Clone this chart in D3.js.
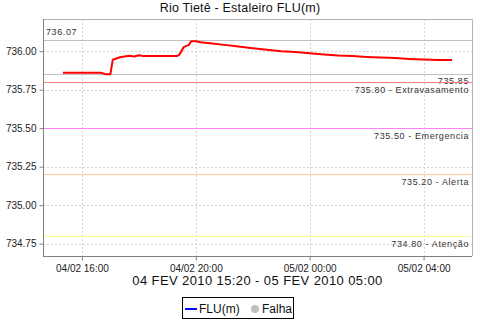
<!DOCTYPE html>
<html><head><meta charset="utf-8">
<script src="https://cdn.jsdelivr.net/npm/d3@7"></script>
<style>body{margin:0;background:#fff}svg{display:block}</style>
</head><body>
<script>
const times = ["2010-02-04T15:20","2010-02-04T16:40","2010-02-04T16:50","2010-02-04T17:00","2010-02-04T17:05","2010-02-04T17:20","2010-02-04T17:40","2010-02-04T17:50","2010-02-04T18:00","2010-02-04T18:10","2010-02-04T19:20","2010-02-04T19:25","2010-02-04T19:35","2010-02-04T19:45","2010-02-04T19:50","2010-02-04T20:00","2010-02-04T20:10","2010-02-04T20:30","2010-02-04T21:00","2010-02-04T21:30","2010-02-04T22:00","2010-02-04T22:30","2010-02-04T23:00","2010-02-04T23:30","2010-02-05T00:00","2010-02-05T00:30","2010-02-05T01:00","2010-02-05T01:30","2010-02-05T02:00","2010-02-05T02:30","2010-02-05T03:00","2010-02-05T03:30","2010-02-05T04:00","2010-02-05T04:30","2010-02-05T05:00"];
const values = [735.860,735.860,735.851,735.851,735.944,735.961,735.970,735.966,735.974,735.968,735.968,735.976,736.028,736.039,736.065,736.065,736.058,736.052,736.041,736.030,736.019,736.010,736.000,735.994,735.987,735.979,735.972,735.968,735.963,735.959,735.955,735.950,735.946,735.942,735.942];
const yTicks = [734.75,735.00,735.25,735.50,735.75,736.00];
const xTickTimes = ["2010-02-04T16:00","2010-02-04T20:00","2010-02-05T00:00","2010-02-05T04:00"];
const refValues = [736.07,735.85,735.80,735.50,735.20,734.80];
const refLabels = ["736.07","735.85","735.80 - Extravasamento","735.50 - Emergencia","735.20 - Alerta","734.80 - Atenção"];
const refColors = ["#c0c0c0","#c0c0c0","#ff8080","#ff80ff","#ffc896","#ffff99"];
const title = "Rio Tietê - Estaleiro FLU(m)";
const xLabel = "04 FEV 2010 15:20 - 05 FEV 2010 05:00";
const legendItems = ["FLU(m)","Falha"];

const parse = d3.timeParse("%Y-%m-%dT%H:%M");
const data = times.map((t,i)=>({t:parse(t), v:values[i]}));
const W=480,H=320, L=43, R=472, T=19, B=256;
const svg = d3.select("body").append("svg").attr("width",W).attr("height",H);
const font = "Liberation Sans, Arial, sans-serif";

const x = d3.scaleTime().domain([parse("2010-02-04T14:38"), parse("2010-02-05T05:42")]).range([L,R]);
const y = d3.scaleLinear().domain([734.67, 736.209]).range([B,T]);

// grid
const g = svg.append("g");
g.selectAll(".gy").data(yTicks).join("line")
 .attr("x1",L).attr("x2",R).attr("y1",d=>Math.round(y(d))+0.5).attr("y2",d=>Math.round(y(d))+0.5)
 .attr("stroke","#d4d4d4").attr("stroke-dasharray","2,2");
g.selectAll(".gx").data(xTickTimes.map(parse)).join("line")
 .attr("y1",T).attr("y2",B).attr("x1",d=>Math.round(x(d))+0.5).attr("x2",d=>Math.round(x(d))+0.5)
 .attr("stroke","#d4d4d4").attr("stroke-dasharray","2,2");

// border top/right
svg.append("path").attr("d",`M${L},${T+0.5}H${R+0.5}V${B}`).attr("fill","none").attr("stroke","#b4b4b4");

// reference lines
const refG = svg.append("g");
refValues.forEach((v,i)=>{
  const yy = Math.round(y(v))+0.5;
  refG.append("line").attr("x1",L).attr("x2",R).attr("y1",yy).attr("y2",yy).attr("stroke",refColors[i]).attr("stroke-width",1.2);
  const txt = refG.append("text").text(refLabels[i]).attr("font-family",font).attr("font-size",9)
    .attr("letter-spacing",0.6).attr("fill","#333");
  if(i===0){ txt.attr("x",L+3).attr("y",yy-5.5).attr("text-anchor","start"); }
  else if(i===1){ txt.attr("x",R-3).attr("y",yy+9.5).attr("text-anchor","end"); }
  else { txt.attr("x",R-3).attr("y",yy+10.5).attr("text-anchor","end"); }
});

// data line
const line = d3.line().x(d=>x(d.t)).y(d=>y(d.v));
svg.append("path").datum(data).attr("d",line).attr("fill","none").attr("stroke","#ff0000").attr("stroke-width",2).attr("stroke-linejoin","round");

// axes
const yAxis = d3.axisLeft(y).tickValues(yTicks).tickFormat(d3.format(".2f")).tickSize(4).tickPadding(3);
const ya = svg.append("g").attr("transform",`translate(${L+0.5},0)`).call(yAxis);
const xAxis = d3.axisBottom(x).tickValues(xTickTimes.map(parse)).tickFormat(d3.timeFormat("%d/%m %H:%M")).tickSize(4).tickPadding(4);
const xa = svg.append("g").attr("transform",`translate(0,${B+0.5})`).call(xAxis);
[ya,xa].forEach(a=>{
  a.select(".domain").attr("stroke","#808080");
  a.selectAll(".tick line").attr("stroke","#808080");
  a.selectAll(".tick text").attr("font-family",font).attr("font-size",10).attr("fill","#222");
});
ya.select(".domain").attr("d",`M0,${T}V${B}`);
xa.select(".domain").attr("d",`M${L},0H${R}`);

// title & x label
svg.append("text").attr("x",240).attr("y",12).attr("text-anchor","middle").attr("font-family",font)
 .attr("font-size",12.5).attr("letter-spacing",0.2).attr("fill","#111").text(title);
svg.append("text").attr("x",(L+R)/2).attr("y",285).attr("text-anchor","middle").attr("font-family",font)
 .attr("font-size",13).attr("letter-spacing",0.4).attr("fill","#111").text(xLabel);

// legend
const lg = svg.append("g");
lg.append("rect").attr("x",182.5).attr("y",297.5).attr("width",111).attr("height",21).attr("fill","#fff").attr("stroke","#000");
lg.append("line").attr("x1",185).attr("x2",197).attr("y1",309).attr("y2",309).attr("stroke","#0000ff").attr("stroke-width",2);
lg.append("text").attr("x",199).attr("y",313).attr("font-family",font).attr("font-size",12).attr("fill","#111").text(legendItems[0]);
lg.append("circle").attr("cx",255).attr("cy",309).attr("r",4).attr("fill","#c0c0c0");
lg.append("text").attr("x",262).attr("y",313).attr("font-family",font).attr("font-size",12).attr("fill","#111").text(legendItems[1]);
</script>
</body></html>
